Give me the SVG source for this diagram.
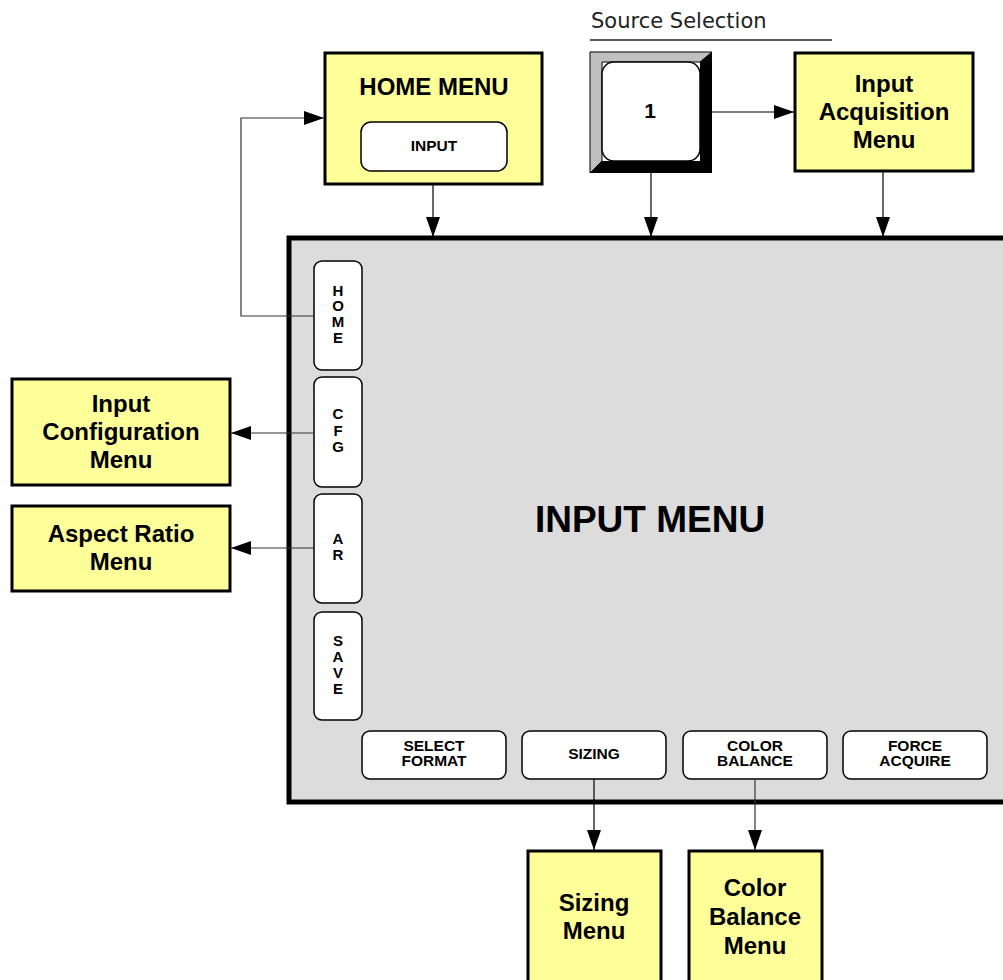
<svg xmlns="http://www.w3.org/2000/svg" width="1003" height="980" viewBox="0 0 1003 980">
<style>
.box{fill:#ffff99;stroke:#000;stroke-width:3}
.btn{fill:#fff;stroke:#000;stroke-width:1.5}
.t{font-family:"Liberation Sans",Arial,sans-serif;font-weight:bold;text-anchor:middle;fill:#000}
.big{font-size:24px}
.sm{font-size:15.5px}
.sl{font-size:15px}
.ln{stroke:#000;stroke-width:1.2;fill:none}
.lg{stroke:#333;stroke-width:1.2;fill:none}
</style>
<defs>
<marker id="ah" viewBox="0 0 20 14" refX="20" refY="7" markerWidth="20" markerHeight="14" markerUnits="userSpaceOnUse" orient="auto">
<path d="M0,0 L20,7 L0,14 Z" fill="#000"/>
</marker>
</defs>
<rect width="1003" height="980" fill="#fff"/>

<g id="source-label">
<text x="591" y="28" style="font-family:'DejaVu Sans',Verdana,sans-serif;font-size:21px" fill="#222">Source Selection</text>
<line x1="590" y1="40" x2="832" y2="40" stroke="#222" stroke-width="1.5"/>
</g>

<g id="input-menu">
<rect x="289" y="238" width="720" height="564" fill="#dcdcdc" stroke="#000" stroke-width="5"/>
<text x="650" y="532" class="t" style="font-size:37px">INPUT MENU</text>
</g>

<g id="home-menu">
<rect x="325" y="53" width="217" height="131" class="box"/>
<text x="434" y="95" class="t big">HOME MENU</text>
<rect x="361" y="122" width="146" height="49" rx="10" class="btn"/>
<text x="434" y="151" class="t sm">INPUT</text>
</g>

<g id="source-button">
<polygon points="590,52 712,52 700,62 602,62 602,161 590,173" fill="#c0c0c0" stroke="#000" stroke-width="1"/>
<polygon points="712,52 712,173 590,173 602,161 700,161 700,62" fill="#000"/>
<rect x="602" y="62" width="98" height="99" rx="12" fill="#fff" stroke="#000" stroke-width="1.5"/>
<text x="650" y="118" class="t" style="font-size:21px">1</text>
</g>

<g id="input-acquisition">
<rect x="795" y="53" width="178" height="118" class="box"/>
<text x="884" y="92" class="t big">Input</text>
<text x="884" y="120" class="t big">Acquisition</text>
<text x="884" y="148" class="t big">Menu</text>
</g>

<g id="input-configuration">
<rect x="12" y="379" width="218" height="106" class="box"/>
<text x="121" y="412" class="t big">Input</text>
<text x="121" y="440" class="t big">Configuration</text>
<text x="121" y="468" class="t big">Menu</text>
</g>

<g id="aspect-ratio">
<rect x="12" y="506" width="218" height="85" class="box"/>
<text x="121" y="542" class="t big">Aspect Ratio</text>
<text x="121" y="570" class="t big">Menu</text>
</g>

<g id="sizing-menu">
<rect x="528" y="851" width="133" height="140" class="box"/>
<text x="594" y="911" class="t big">Sizing</text>
<text x="594" y="939" class="t big">Menu</text>
</g>

<g id="color-balance-menu">
<rect x="689" y="851" width="133" height="140" class="box"/>
<text x="755" y="896" class="t big">Color</text>
<text x="755" y="925" class="t big">Balance</text>
<text x="755" y="954" class="t big">Menu</text>
</g>

<g id="btn-home">
<rect x="314" y="261" width="48" height="109" rx="8" class="btn"/>
<text x="338" y="296" class="t sl">H</text>
<text x="338" y="311" class="t sl">O</text>
<text x="338" y="327" class="t sl">M</text>
<text x="338" y="343" class="t sl">E</text>
</g>
<g id="btn-cfg">
<rect x="314" y="377" width="48" height="110" rx="8" class="btn"/>
<text x="338" y="419" class="t sl">C</text>
<text x="338" y="436" class="t sl">F</text>
<text x="338" y="452" class="t sl">G</text>
</g>
<g id="btn-ar">
<rect x="314" y="494" width="48" height="109" rx="8" class="btn"/>
<text x="338" y="544" class="t sl">A</text>
<text x="338" y="560" class="t sl">R</text>
</g>
<g id="btn-save">
<rect x="314" y="612" width="48" height="108" rx="8" class="btn"/>
<text x="338" y="646" class="t sl">S</text>
<text x="338" y="662" class="t sl">A</text>
<text x="338" y="678" class="t sl">V</text>
<text x="338" y="694" class="t sl">E</text>
</g>

<g id="btn-select-format">
<rect x="362" y="731" width="144" height="48" rx="8" class="btn"/>
<text x="434" y="751" class="t sm">SELECT</text>
<text x="434" y="766" class="t sm">FORMAT</text>
</g>
<g id="btn-sizing">
<rect x="522" y="731" width="144" height="48" rx="8" class="btn"/>
<text x="594" y="759" class="t sm">SIZING</text>
</g>
<g id="btn-color-balance">
<rect x="683" y="731" width="144" height="48" rx="8" class="btn"/>
<text x="755" y="751" class="t sm">COLOR</text>
<text x="755" y="766" class="t sm">BALANCE</text>
</g>
<g id="btn-force-acquire">
<rect x="843" y="731" width="144" height="48" rx="8" class="btn"/>
<text x="915" y="751" class="t sm">FORCE</text>
<text x="915" y="766" class="t sm">ACQUIRE</text>
</g>

<g id="connectors">
<line x1="433" y1="185" x2="433" y2="237" class="ln" marker-end="url(#ah)"/>
<line x1="651" y1="173" x2="651" y2="237" class="ln" marker-end="url(#ah)"/>
<line x1="883" y1="171" x2="883" y2="237" class="ln" marker-end="url(#ah)"/>
<line x1="712" y1="112" x2="794" y2="112" class="ln" marker-end="url(#ah)"/>
<polyline points="314,316 241,316 241,118 324,118" class="lg" marker-end="url(#ah)"/>
<line x1="314" y1="433" x2="231" y2="433" class="lg" marker-end="url(#ah)"/>
<line x1="314" y1="548" x2="231" y2="548" class="lg" marker-end="url(#ah)"/>
<line x1="594" y1="779" x2="594" y2="850" class="ln" marker-end="url(#ah)"/>
<line x1="755" y1="779" x2="755" y2="850" class="lg" marker-end="url(#ah)"/>
</g>
</svg>
